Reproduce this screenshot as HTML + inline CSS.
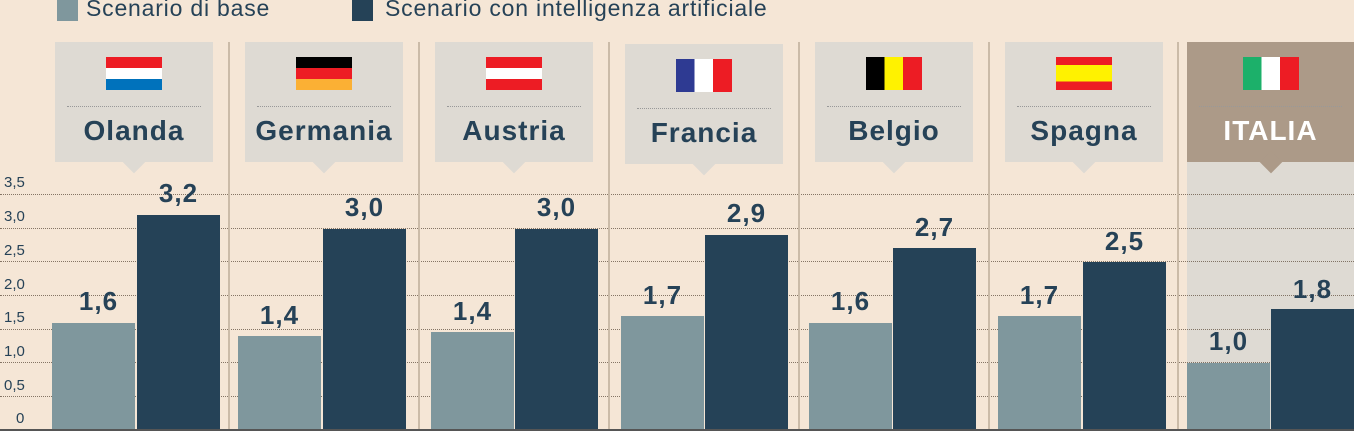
<!DOCTYPE html>
<html><head><meta charset="utf-8"><style>
*{margin:0;padding:0;box-sizing:border-box}
body{width:1354px;height:431px;background:#f5e6d6;position:relative;overflow:hidden;font-family:"Liberation Sans",sans-serif;color:#264257}
.a{position:absolute}
.box{position:absolute;top:42px;width:158px;height:120px;background:#dedad3}
.box .p{position:absolute;left:71px;bottom:-8px;width:16px;height:16px;background:#dedad3;transform:rotate(45deg)}
.box .d{position:absolute;left:12px;right:12px;top:64px;border-top:1px dotted #999}
.box .n{position:absolute;left:-10px;right:-10px;top:73px;text-align:center;font-weight:bold;font-size:28px;letter-spacing:1px}
.fl{position:absolute;left:51px;top:15px;width:56px;height:33px}
.sep{position:absolute;top:42px;bottom:0;width:2px;background:#cbbba8}
.g{position:absolute;left:0;right:0;border-top:1px dotted #6a5a4a;opacity:.8}
.yl{position:absolute;left:4px;width:30px;font-size:15px;text-align:left}
.bar{position:absolute;bottom:0;width:83px}
.l{background:#7f979d}.dk{background:#254257}
.v{position:absolute;width:83px;text-align:center;font-weight:bold;font-size:26px;letter-spacing:1px}
</style></head><body>
<div class="a" style="left:57px;top:0;width:21px;height:21px;background:#7f979d"></div>
<div class="a" style="left:86px;top:-5px;font-size:23px;letter-spacing:0.8px">Scenario di base</div>
<div class="a" style="left:352px;top:0;width:21px;height:21px;background:#254257"></div>
<div class="a" style="left:385px;top:-5px;font-size:23px;letter-spacing:0.8px">Scenario con intelligenza artificiale</div>

<div class="a" style="left:1187px;top:161px;width:167px;height:270px;background:#dedad3"></div>

<div class="g" style="top:194px"></div><div class="g" style="top:228px"></div><div class="g" style="top:261px"></div><div class="g" style="top:295px"></div><div class="g" style="top:329px"></div><div class="g" style="top:362px"></div><div class="g" style="top:396px"></div>
<div class="yl" style="top:174px">3,5</div><div class="yl" style="top:208px">3,0</div><div class="yl" style="top:242px">2,5</div><div class="yl" style="top:276px">2,0</div><div class="yl" style="top:309px">1,5</div><div class="yl" style="top:343px">1,0</div><div class="yl" style="top:377px">0,5</div><div class="yl" style="top:410px;left:16px">0</div>

<div class="sep" style="left:228px"></div><div class="sep" style="left:418px"></div><div class="sep" style="left:608px"></div><div class="sep" style="left:798px"></div><div class="sep" style="left:988px"></div><div class="sep" style="left:1177px"></div>

<div class="box" style="left:55px"><div class="fl" style="background:linear-gradient(#ed1c24 0 33%,#fff 33% 66%,#0072bc 66%)"></div><div class="d"></div><div class="n">Olanda</div><div class="p"></div></div>
<div class="box" style="left:245px"><div class="fl" style="background:linear-gradient(#000 0 33%,#ed1c24 33% 66%,#fbb034 66%)"></div><div class="d"></div><div class="n">Germania</div><div class="p"></div></div>
<div class="box" style="left:435px"><div class="fl" style="background:linear-gradient(#ed1c24 0 33%,#fff 33% 66%,#ed1c24 66%)"></div><div class="d"></div><div class="n">Austria</div><div class="p"></div></div>
<div class="box" style="left:625px;top:44px"><div class="fl" style="background:linear-gradient(90deg,#2e3a92 0 33%,#fff 33% 66%,#ed1c24 66%)"></div><div class="d"></div><div class="n">Francia</div><div class="p"></div></div>
<div class="box" style="left:815px"><div class="fl" style="background:linear-gradient(90deg,#000 0 33%,#fff200 33% 66%,#ed1c24 66%)"></div><div class="d"></div><div class="n">Belgio</div><div class="p"></div></div>
<div class="box" style="left:1005px"><div class="fl" style="background:linear-gradient(#ed1c24 0 25%,#fff200 25% 75%,#ed1c24 75%)"></div><div class="d"></div><div class="n">Spagna</div><div class="p"></div></div>
<div class="box" style="left:1187px;width:167px;background:#ac9a88"><div class="fl" style="left:56px;background:linear-gradient(90deg,#1cb06a 0 33%,#fff 33% 66%,#ed1c24 66%)"></div><div class="d"></div><div class="n" style="color:#fff">ITALIA</div><div class="p" style="left:76px;background:#ac9a88"></div></div>

<div class="bar l" style="left:52px;height:108px"></div><div class="bar dk" style="left:137px;height:216px"></div>
<div class="bar l" style="left:238px;height:95px"></div><div class="bar dk" style="left:323px;height:202px"></div>
<div class="bar l" style="left:431px;height:99px"></div><div class="bar dk" style="left:515px;height:202px"></div>
<div class="bar l" style="left:621px;height:115px"></div><div class="bar dk" style="left:705px;height:196px"></div>
<div class="bar l" style="left:809px;height:108px"></div><div class="bar dk" style="left:893px;height:183px"></div>
<div class="bar l" style="left:998px;height:115px"></div><div class="bar dk" style="left:1083px;height:169px"></div>
<div class="bar l" style="left:1187px;height:68px"></div><div class="bar dk" style="left:1271px;height:122px"></div>

<div class="v" style="left:57px;top:286px">1,6</div><div class="v" style="left:137px;top:178px">3,2</div>
<div class="v" style="left:238px;top:300px">1,4</div><div class="v" style="left:323px;top:192px">3,0</div>
<div class="v" style="left:431px;top:296px">1,4</div><div class="v" style="left:515px;top:192px">3,0</div>
<div class="v" style="left:621px;top:280px">1,7</div><div class="v" style="left:705px;top:198px">2,9</div>
<div class="v" style="left:809px;top:286px">1,6</div><div class="v" style="left:893px;top:212px">2,7</div>
<div class="v" style="left:998px;top:280px">1,7</div><div class="v" style="left:1083px;top:226px">2,5</div>
<div class="v" style="left:1187px;top:326px">1,0</div><div class="v" style="left:1271px;top:274px">1,8</div>
<div class="a" style="left:0;right:0;bottom:0;height:2px;background:#555"></div>
</body></html>
